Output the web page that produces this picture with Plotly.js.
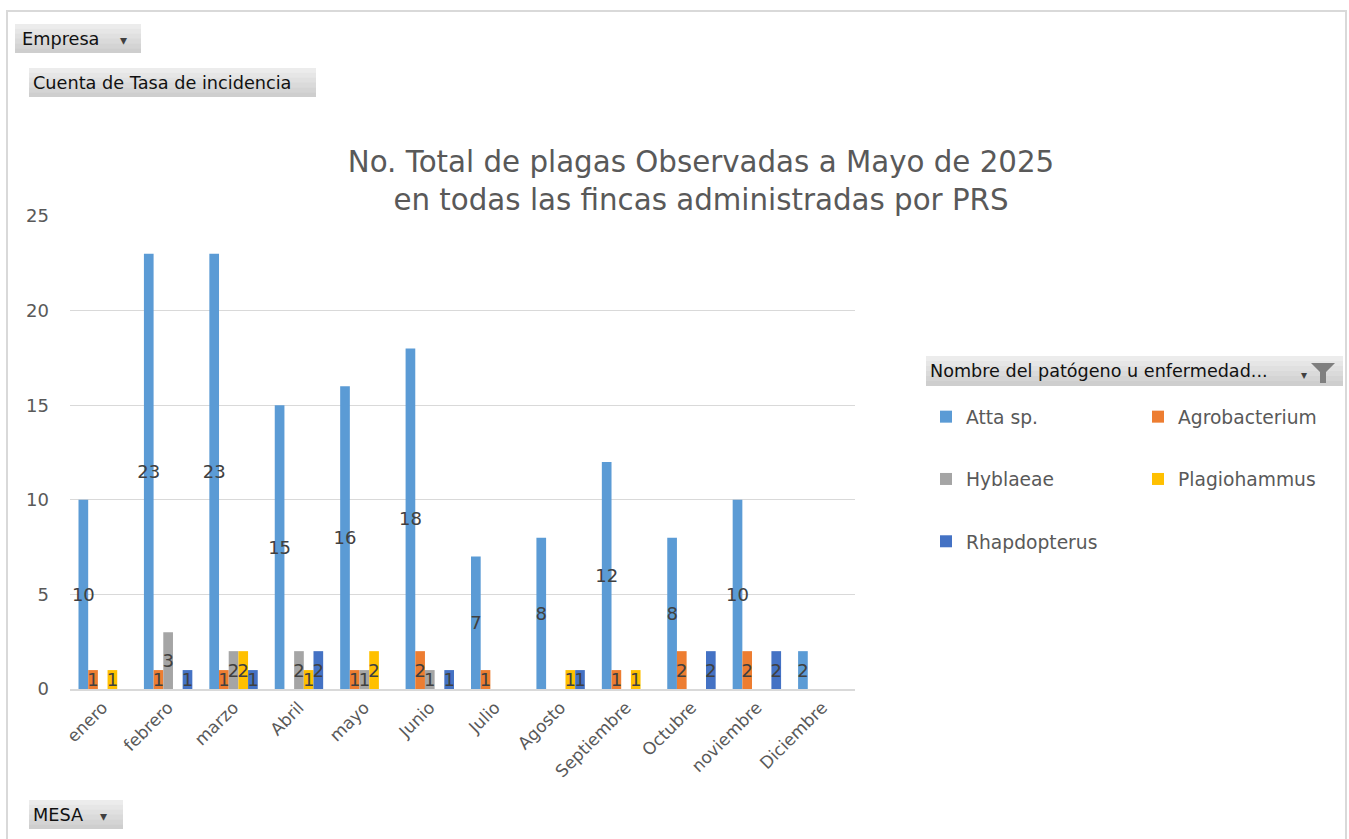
<!DOCTYPE html>
<html>
<head>
<meta charset="utf-8">
<script src="https://cdn.plot.ly/plotly-3.0.1.min.js"></script>
<style>html,body{margin:0;padding:0;background:#fff;}#chart{width:1349px;height:839px;}</style>
</head>
<body>
<div id="chart"></div>
<script>
// ---- Data ----
const months = ["enero","febrero","marzo","Abril","mayo","Junio","Julio","Agosto","Septiembre","Octubre","noviembre","Diciembre"];
const attaSp       = [10, 23, 23, 15, 16, 18, 7, 8, 12, 8, 10, 2];
const agrobacterium= [1, 1, 1, null, 1, 2, 1, null, 1, 2, 2, null];
const hyblaeae     = [null, 3, 2, 2, 1, 1, null, null, null, null, null, null];
const plagiohammus = [1, null, 2, 1, 2, null, null, 1, 1, null, null, null];
const rhapdopterus = [null, 1, 1, 2, null, 1, null, 1, null, 2, 2, null];
const yTicks = [0, 5, 10, 15, 20, 25];

const seriesNames = ["Atta sp.", "Agrobacterium", "Hyblaeae", "Plagiohammus", "Rhapdopterus"];
const seriesValues = [attaSp, agrobacterium, hyblaeae, plagiohammus, rhapdopterus];
const seriesColors = ["#5B9BD5", "#ED7D31", "#A5A5A5", "#FFC000", "#4472C4"];
const seriesLegend = ["legend", "legend2", "legend", "legend2", "legend"];

const FONT = "DejaVu Sans, Verdana, sans-serif";

const traces = seriesNames.map((name, i) => ({
  type: "bar",
  name: name,
  x: months,
  y: seriesValues[i],
  text: seriesValues[i].map(v => v == null ? "" : String(v)),
  textposition: "inside",
  insidetextanchor: "middle",
  textangle: 0,
  constraintext: "none",
  insidetextfont: {family: FONT, size: 18, color: "#404040"},
  marker: {color: seriesColors[i], line: {width: 0}},
  legend: seriesLegend[i],
  legendgroup: name,
  hoverinfo: "x+y+name"
}));

// pixel -> paper helpers for decorations
const L = 70, R = 855, T = 216, B = 689;
const px = x => (x - L) / (R - L);
const py = y => (B - y) / (B - T);

const bandColors = ["#ececec", "#e6e6e6", "#e0e0e0", "#dadada", "#d4d4d4", "#cecece"];
function button(x0, y0, x1, y1) {
  const h = (y1 - y0) / bandColors.length;
  return bandColors.map((c, k) => ({
    type: "rect", xref: "paper", yref: "paper", x0: px(x0), x1: px(x1),
    y0: py(y0 + k * h), y1: py(y0 + (k + 1) * h + (k < bandColors.length - 1 ? 0.5 : 0)),
    fillcolor: c, line: {width: 0}, layer: "above"
  }));
}

const shapes = [
  {type: "rect", xref: "paper", yref: "paper", x0: px(7), x1: px(1346), y0: py(11), y1: py(860),
   fillcolor: "rgba(0,0,0,0)", line: {color: "#d9d9d9", width: 2}, layer: "below"},
  ...button(15, 24, 141, 53),
  ...button(29, 68, 316, 97),
  ...button(29, 800, 123, 829),
  ...button(926, 356, 1343, 386),
  // funnel icon
  {type: "path", xref: "paper", yref: "paper",
   path: `M${px(1311)},${py(363)} L${px(1335)},${py(363)} L${px(1326)},${py(372)} L${px(1326)},${py(383)} L${px(1320)},${py(383)} L${px(1320)},${py(372)} Z`,
   fillcolor: "#7f7f7f", line: {width: 0}, layer: "above"}
];

function label(text, x, y, size, color, anchor) {
  return {text: text, xref: "paper", yref: "paper", x: px(x), y: py(y), xanchor: anchor || "left", yanchor: "middle",
          showarrow: false, font: {family: FONT, size: size, color: color || "#000"}};
}

const annotations = [
  label("Empresa", 20, 39, 17.7, "#111"),
  label("▾", 118, 40, 14, "#404040"),
  label("Cuenta de Tasa de incidencia", 31, 83, 17.7, "#111"),
  label("MESA", 31, 815, 17.7, "#111"),
  label("▾", 98, 816, 14, "#404040"),
  label("Nombre del patógeno u enfermedad...", 928, 371, 17.6, "#111"),
  label("▾", 1299, 375, 12, "#404040")
];

const layout = {
  width: 1349, height: 839,
  margin: {l: L, r: 1349 - R, t: T, b: 839 - B, pad: 0},
  paper_bgcolor: "#ffffff", plot_bgcolor: "#ffffff",
  font: {family: FONT, color: "#595959"},
  title: {
    text: "No. Total de plagas Observadas a Mayo de 2025<br>en todas las fincas administradas por PRS",
    xref: "container", yref: "container", x: 701 / 1349, xanchor: "center",
    y: 1 - 172 / 839, yanchor: "top",
    font: {family: FONT, size: 29.3, color: "#595959"}
  },
  barmode: "group",
  bargap: 0.26,
  bargroupgap: 0,
  showlegend: true,
  xaxis: {
    type: "category",
    tickangle: -45,
    tickfont: {family: FONT, size: 17, color: "#595959"},
    showgrid: false, showline: true, linecolor: "#d9d9d9", linewidth: 2,
    ticks: "", fixedrange: true
  },
  yaxis: {
    range: [0, 25],
    tickvals: yTicks,
    ticktext: yTicks.map(String),
    tickfont: {family: FONT, size: 18, color: "#595959"},
    showgrid: true, gridcolor: "#d9d9d9", gridwidth: 1,
    zeroline: false, showline: false, ticks: "", ticklabelstandoff: 20,
    fixedrange: true
  },
  legend: {
    x: px(926), xanchor: "left", y: py(398), yanchor: "top",
    orientation: "v", traceorder: "grouped", tracegroupgap: 35,
    font: {family: FONT, size: 18.7, color: "#595959"},
    bgcolor: "rgba(0,0,0,0)"
  },
  legend2: {
    x: px(1138), xanchor: "left", y: py(398), yanchor: "top",
    orientation: "v", traceorder: "grouped", tracegroupgap: 35,
    font: {family: FONT, size: 18.7, color: "#595959"},
    bgcolor: "rgba(0,0,0,0)"
  },
  shapes: shapes,
  annotations: annotations
};

Plotly.newPlot("chart", traces, layout, {displayModeBar: false, staticPlot: true});
</script>
</body>
</html>
